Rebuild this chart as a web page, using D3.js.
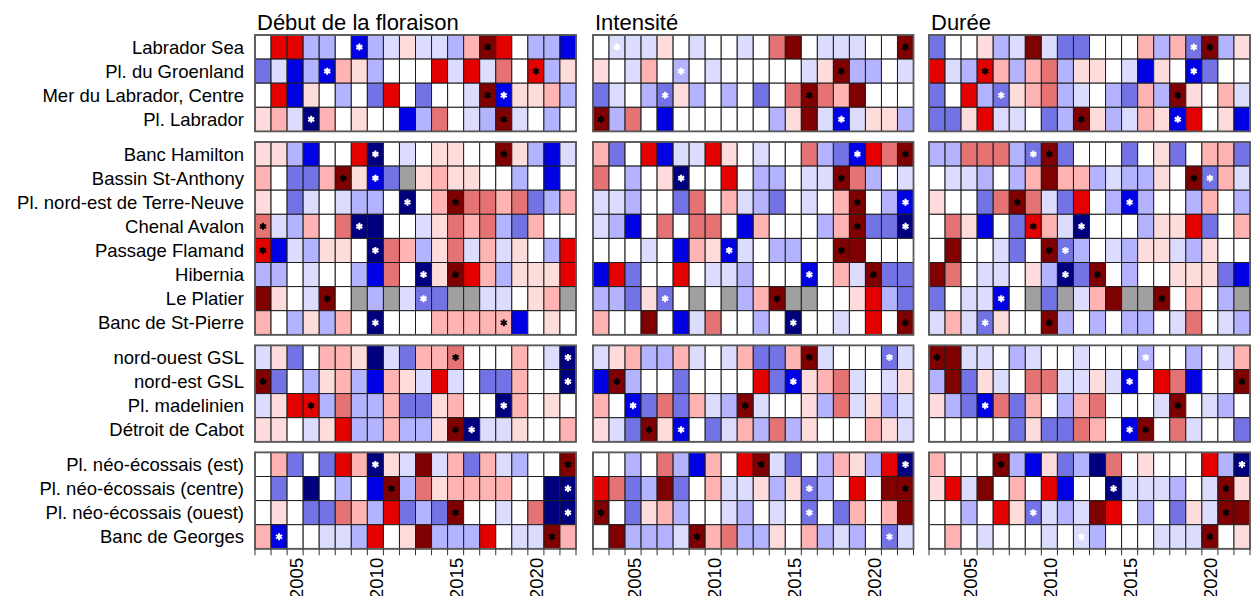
<!DOCTYPE html>
<html>
<head>
<meta charset="utf-8">
<script src="https://cdn.jsdelivr.net/npm/d3@7"></script>
<style>
  body { margin: 0; background: #fff; }
  svg { display: block; }
  text { font-family: "Liberation Sans", Arial, Helvetica, sans-serif; fill: #000; }
</style>
</head>
<body>
<svg id="chart" width="1252" height="596"></svg>
<script>
// Years shown on every scorecard panel
const years = d3.range(2003, 2023);
const labelYears = [2005, 2010, 2015, 2020];

// Regions, top to bottom, and how they are grouped
const regions = [
  "Labrador Sea", "Pl. du Groenland", "Mer du Labrador, Centre", "Pl. Labrador",
  "Banc Hamilton", "Bassin St-Anthony", "Pl. nord-est de Terre-Neuve", "Chenal Avalon",
  "Passage Flamand", "Hibernia", "Le Platier", "Banc de St-Pierre",
  "nord-ouest GSL", "nord-est GSL", "Pl. madelinien", "Détroit de Cabot",
  "Pl. néo-écossais (est)", "Pl. néo-écossais (centre)", "Pl. néo-écossais (ouest)", "Banc de Georges"
];
const groupSizes = [4, 8, 4, 4];

const panelTitles = ["Début de la floraison", "Intensité", "Durée"];

// Anomaly class per region and year (half-SD steps, -5 .. +5; null = no data)
const debutValues = [
  [0,4,4,-2,-2,0,-4,-2,-1,1,-1,-1,-2,2,5,4,0,-2,-2,-4],
  [-3,-1,-4,-2,-4,2,1,-2,0,0,0,4,-1,4,-1,3,0,4,-2,1],
  [0,4,-4,1,0,-2,0,-3,4,0,-3,0,0,-1,5,-4,1,1,2,-2],
  [1,2,-1,-5,2,0,1,0,0,-4,-2,3,0,-1,-2,5,-1,0,-2,0],
  [1,1,-2,-4,0,0,4,-5,0,-1,0,1,1,0,0,5,1,-2,-4,-1],
  [2,0,-3,-3,2,5,1,-4,-3,null,1,2,1,1,0,0,-2,0,-4,0],
  [1,0,-3,-1,0,-1,-2,-2,0,-5,0,2,5,3,3,2,3,-3,-2,2],
  [3,-1,-2,2,0,3,-5,-5,0,0,-1,1,3,2,3,-2,-3,2,0,0],
  [4,-4,-1,-2,1,1,0,-5,3,2,-2,1,3,-1,2,-1,1,0,-2,4],
  [-2,-2,0,-1,0,0,-2,-4,3,0,-5,1,5,4,2,-2,1,1,1,4],
  [5,1,0,-1,5,0,null,-2,null,-1,-3,-3,null,null,-1,-1,0,1,2,null],
  [2,0,-2,1,-2,2,0,-5,0,0,0,2,2,2,2,2,-4,0,1,0],
  [-1,1,-3,0,2,2,1,-5,-1,-3,2,2,3,0,0,0,2,0,-1,-5],
  [5,-3,0,-2,1,2,-2,-4,2,1,-1,4,-1,0,-3,-3,2,0,0,-5],
  [-1,1,4,4,-2,3,-2,-2,2,-3,-3,1,2,0,0,-5,2,0,1,0],
  [1,1,0,-1,1,4,-2,-2,2,-2,-2,1,5,-5,-1,-1,1,0,0,2],
  [0,2,-3,0,-3,4,2,-5,1,-1,5,-1,2,-3,2,-1,-2,0,0,5],
  [0,-3,0,-5,0,-2,0,-4,5,-2,3,1,2,2,2,2,0,0,-5,-5],
  [0,1,0,-3,-3,3,2,-2,4,-3,-2,-3,5,0,0,-1,0,3,-5,-5],
  [2,-4,0,0,-1,-1,-2,4,0,1,5,-2,-2,-2,4,0,-1,-1,5,2]
];
const intensiteValues = [
  [0,-1,-1,-1,1,0,-1,0,0,-1,0,3,5,0,-1,-1,-1,0,0,5],
  [1,0,-1,2,0,-2,0,-1,0,0,0,0,0,-1,1,5,-2,-2,0,-1],
  [-3,-1,0,-2,-3,1,-2,0,-2,0,-3,0,3,5,3,2,5,0,0,0],
  [5,-2,3,0,-4,0,0,0,0,0,0,-2,1,5,-1,-4,-1,1,1,-2],
  [2,-3,0,4,-4,-1,-1,4,1,0,-1,0,0,3,-2,-3,-4,4,3,5],
  [3,0,-2,0,1,-5,0,0,4,0,-2,-2,0,-1,-1,5,3,-2,0,-1],
  [-1,-1,-2,0,0,-3,3,0,2,-1,-2,-3,0,-1,0,2,5,0,-2,-4],
  [-1,-2,-4,0,3,0,3,3,0,-4,2,0,0,0,-2,2,5,-3,-3,-5],
  [0,0,0,-1,0,-4,2,1,-4,-1,0,-2,-2,0,0,5,5,0,0,0],
  [-4,4,-3,0,0,4,0,-1,-1,-2,0,0,0,-4,0,2,-1,5,-3,-3],
  [-2,-2,-3,1,-3,0,null,0,null,-2,2,5,null,null,0,0,1,4,-2,-3],
  [2,0,0,5,0,-4,-1,3,0,0,-2,0,-5,0,0,-1,0,4,0,5],
  [-1,1,2,-2,-2,2,-1,0,-1,2,-3,-3,2,5,-1,0,0,0,-3,-1],
  [-4,5,-2,0,0,-3,0,0,0,0,4,-3,-4,1,2,3,-1,0,-1,1],
  [2,0,-4,-3,3,-3,2,-1,-2,5,-1,0,0,1,-2,3,-1,1,-2,-1],
  [1,-1,-3,5,1,-4,0,-3,-1,2,-2,3,-2,1,0,0,0,2,1,-1],
  [0,0,-2,0,3,-2,-4,2,0,4,5,-1,-3,0,-2,2,1,-2,4,-5],
  [4,3,-3,-2,5,-3,0,2,-1,-1,1,-2,1,-3,-2,0,4,0,5,5],
  [5,0,-3,1,2,-2,0,0,-1,-2,0,-1,0,-3,0,-3,2,0,2,5],
  [0,5,-2,-2,-2,-1,5,2,3,-2,-2,1,0,2,-2,-1,-2,0,-3,-1]
];
const dureeValues = [
  [-3,0,0,1,-2,-1,5,-1,-3,-3,0,0,0,2,-2,2,-3,5,-2,1],
  [4,-1,-2,4,2,-2,2,3,-2,1,1,0,-1,-4,1,0,-4,-3,0,0],
  [-3,0,4,-2,-3,1,2,3,-2,-1,0,-2,-3,2,-2,5,1,0,2,-1],
  [-3,-3,1,4,-1,-1,0,-3,-2,5,1,-2,-1,2,1,-4,4,0,1,-4],
  [-2,-2,3,3,3,-2,-3,5,-3,0,0,0,-3,0,1,-3,0,2,2,-3],
  [0,-1,-1,-2,0,-2,2,5,2,2,-2,-1,-2,-2,1,0,5,-3,2,-1],
  [1,0,0,-3,3,5,3,-1,-3,4,0,-2,-4,-2,0,0,-2,2,0,-2],
  [0,3,1,-4,0,-3,4,2,-1,-5,0,0,0,-2,1,1,4,-3,0,2],
  [0,5,0,0,-1,-3,0,5,-3,-2,0,-1,-2,1,1,-1,-2,1,0,0],
  [5,3,0,-1,-1,0,1,-2,-5,-3,5,0,-2,0,0,1,1,1,-3,-4],
  [-3,0,-1,-1,-4,0,null,-3,null,-1,2,5,null,null,5,0,2,0,-2,null],
  [-1,2,-1,-3,1,0,0,5,-2,0,-2,0,-2,-2,0,-1,3,0,-1,-2],
  [5,5,-1,-1,0,-2,-1,0,0,-1,0,0,0,-2,0,0,-2,0,-1,2],
  [-2,5,-3,1,-1,0,3,3,-1,-1,1,-1,-4,0,4,3,-4,0,0,5],
  [1,-2,-3,-4,3,-3,2,0,-2,2,3,0,0,0,-1,5,0,-1,-2,0],
  [0,0,0,0,0,-3,1,-3,-3,3,2,0,-4,5,0,3,-1,0,0,-3],
  [2,0,0,0,5,-2,-4,1,-3,-2,-5,3,0,1,0,0,0,4,-2,-5],
  [1,4,-1,5,0,2,0,4,-4,0,0,-5,-1,-1,-1,-2,0,-1,5,1],
  [0,0,-2,0,4,1,-3,-1,-2,-1,5,4,0,-2,0,-3,1,-1,5,5],
  [0,2,0,-1,0,0,0,-1,0,-1,-2,0,0,0,-1,-1,-1,5,0,1]
];

// Year of the series minimum (white star) and maximum (black star) per region
const debutLow   = [2009,2007,2018,2006,2010,2010,2012,2009,2010,2013,2013,2010,2022,2022,2018,2016,2010,2022,2022,2004];
const debutHigh  = [2017,2020,2017,2018,2018,2008,2015,2003,2003,2015,2007,2018,2015,2003,2006,2015,2022,2011,2015,2021];
const intensiteLow  = [2004,2008,2007,2018,2019,2008,2022,2022,2011,2016,2007,2015,2021,2015,2005,2008,2022,2016,2016,2021];
const intensiteHigh = [2022,2018,2016,2003,2022,2018,2019,2019,2018,2020,2014,2022,2016,2004,2012,2006,2013,2022,2003,2009];
const dureeLow   = [2019,2019,2007,2018,2009,2020,2015,2012,2011,2011,2007,2006,2016,2015,2006,2015,2022,2014,2009,2012];
const dureeHigh  = [2020,2006,2018,2012,2010,2019,2008,2009,2010,2013,2017,2010,2003,2022,2018,2016,2007,2021,2021,2020];

// Diverging palette: navy → blue → white → red → dark red
const classColors = [
  "#00007f", "#0000e5", "#7373e5", "#b3b3ff", "#dcdcff",
  "#ffffff",
  "#ffdcdc", "#ffb3b3", "#e57373", "#e50000", "#7f0000"
];
const missingColor = "#a0a0a0";
const color = d3.scaleThreshold()
  .domain([-4.5, -3.5, -2.5, -1.5, -0.5, 0.5, 1.5, 2.5, 3.5, 4.5])
  .range(classColors);

const panels = [
  { title: panelTitles[0], values: debutValues, low: debutLow, high: debutHigh, x0: 255, x1: 576 },
  { title: panelTitles[1], values: intensiteValues, low: intensiteLow, high: intensiteHigh, x0: 593, x1: 913.5 },
  { title: panelTitles[2], values: dureeValues, low: dureeLow, high: dureeHigh, x0: 929, x1: 1250 }
];

// Vertical layout: rows of equal height, a gap between region groups
const gridTop = 35, rowH = 24.1, groupGap = 10.6;
const groupOf = [];
groupSizes.forEach((n, g) => { for (let k = 0; k < n; k++) groupOf.push(g); });
const rowY = i => gridTop + i * rowH + groupOf[i] * groupGap;
const groupStart = groupSizes.map((n, g) => d3.sum(groupSizes.slice(0, g)));
const gridBottom = rowY(regions.length - 1) + rowH;

const svg = d3.select("#chart");
const star = d3.symbol().type(d3.symbolAsterisk).size(34);

// Region names
svg.append("g")
  .selectAll("text")
  .data(regions)
  .join("text")
  .attr("x", 244)
  .attr("y", (d, i) => rowY(i) + rowH / 2)
  .attr("text-anchor", "end")
  .attr("dominant-baseline", "central")
  .style("font-size", "18.5px")
  .text(d => d);

panels.forEach(p => {
  const x = d3.scaleBand().domain(years).range([p.x0, p.x1]);
  const g = svg.append("g");

  g.append("text")
    .attr("x", p.x0 + 2)
    .attr("y", 30)
    .style("font-size", "22px")
    .text(p.title);

  const cells = [];
  p.values.forEach((row, i) => row.forEach((v, j) => cells.push({ i, year: years[j], v })));

  g.append("g")
    .selectAll("rect")
    .data(cells)
    .join("rect")
    .attr("x", d => x(d.year))
    .attr("y", d => rowY(d.i))
    .attr("width", x.bandwidth())
    .attr("height", rowH)
    .attr("fill", d => d.v === null ? missingColor : color(d.v))
    .attr("stroke", "#1e1e1e")
    .attr("stroke-width", 1);

  // Frame around each region group
  g.append("g")
    .selectAll("rect")
    .data(groupSizes)
    .join("rect")
    .attr("x", p.x0)
    .attr("y", (n, gi) => rowY(groupStart[gi]))
    .attr("width", p.x1 - p.x0)
    .attr("height", n => n * rowH)
    .attr("fill", "none")
    .attr("stroke", "#5a5a5a")
    .attr("stroke-width", 1.8);

  // Min / max markers
  const marks = [];
  p.low.forEach((yr, i) => marks.push({ i, year: yr, c: "#ffffff" }));
  p.high.forEach((yr, i) => marks.push({ i, year: yr, c: "#000000" }));
  g.append("g")
    .selectAll("path")
    .data(marks)
    .join("path")
    .attr("d", star)
    .attr("transform", d => `translate(${x(d.year) + x.bandwidth() / 2},${rowY(d.i) + rowH / 2})`)
    .attr("fill", "none")
    .attr("stroke", d => d.c)
    .attr("stroke-width", 2);

  // Ticks at every year boundary
  const edges = years.map(y => x(y)).concat([p.x1]);
  g.append("g")
    .selectAll("line")
    .data(edges)
    .join("line")
    .attr("x1", d => d).attr("x2", d => d)
    .attr("y1", gridBottom).attr("y2", gridBottom + 6.5)
    .attr("stroke", "#333")
    .attr("stroke-width", 1);

  // Rotated year labels (they run past the bottom edge of the page)
  g.append("g")
    .selectAll("text")
    .data(labelYears)
    .join("text")
    .attr("transform", d => `translate(${x(d) + x.bandwidth() / 2 + 1},${gridBottom + 9}) rotate(-90)`)
    .attr("text-anchor", "end")
    .attr("dominant-baseline", "central")
    .style("font-size", "18.5px")
    .text(d => d);
});
</script>
</body>
</html>
